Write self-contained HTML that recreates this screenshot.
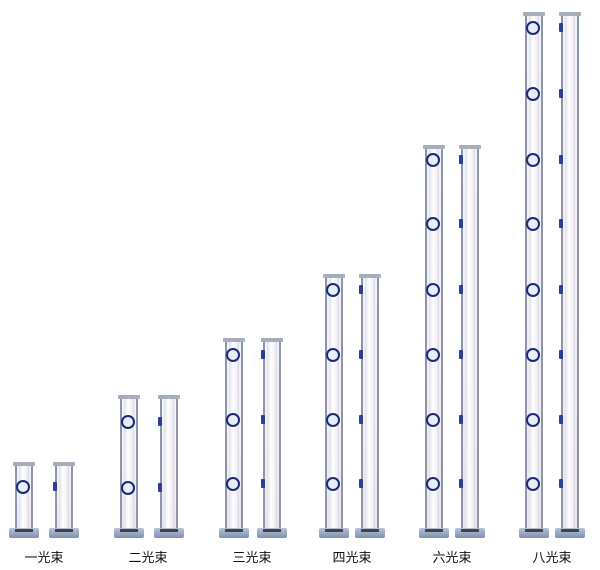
<!DOCTYPE html>
<html><head><meta charset="utf-8">
<style>
body{margin:0;width:600px;height:570px;background:#fff;position:relative;overflow:hidden;font-family:"Liberation Sans","Noto Sans CJK SC",sans-serif}
.p{position:absolute;width:18px;box-sizing:border-box;border-left:2px solid #8f95a8;border-right:2px solid #8f95a8;background:linear-gradient(180deg,#eef4fb,#f6eef3 50%,#e8e6ee);}
.p:before{content:"";position:absolute;left:2px;right:2px;top:0;bottom:0;background:linear-gradient(90deg,#dfe0ea,#fff 40%,#f3eef4 80%,#d7d6e2)}
.cap{position:absolute;height:4px;width:22px;background:#a8adbd;border-radius:1px}
.base{position:absolute;width:30px;height:10px;background:linear-gradient(#b6c4da,#7f8fae);border-radius:2px}
.bar{position:absolute;width:18px;height:3px;background:#444}
.h{position:absolute;width:10px;height:10px;border:2px solid #1a2a78;border-radius:50%;background:#e8eef8;box-sizing:content-box}
.t{position:absolute;width:4px;height:9px;background:#2c3d9a;border-radius:1px}
.l{position:absolute;top:547px;font-size:13px;color:#111;width:60px;text-align:center}
</style></head><body>
<div id="c"></div>
<script>
var g=[[15,55,462,[487],'一光束',44],[120,160,395,[488,422],'二光束',148],[225,263,338,[484,420,355],'三光束',252],[325,361,274,[484,420,355,290],'四光束',352],[425,461,145,[484,420,355,290,224,160],'六光束',452],[525,561,12,[484,420,355,290,224,160,94,28],'八光束',552]];
var h='';
g.forEach(function(a){
[a[0],a[1]].forEach(function(x,i){
 h+='<div class="p" style="left:'+x+'px;top:'+(a[2]+3)+'px;height:'+(530-a[2]-3)+'px"></div>';
 h+='<div class="cap" style="left:'+(x-2)+'px;top:'+a[2]+'px"></div>';
 h+='<div class="base" style="left:'+(x-6)+'px;top:528px"></div>';
 h+='<div class="bar" style="left:'+x+'px;top:529px"></div>';
 a[3].forEach(function(y){
  if(i==0)h+='<div class="h" style="left:'+(x+1)+'px;top:'+(y-7)+'px"></div>';
  else h+='<div class="t" style="left:'+(x-2)+'px;top:'+(y-5)+'px"></div>';
 });
});
h+='<div class="l" style="left:'+(a[5]-30)+'px">'+a[4]+'</div>';
});
document.getElementById('c').innerHTML=h;
</script>
</body></html>
